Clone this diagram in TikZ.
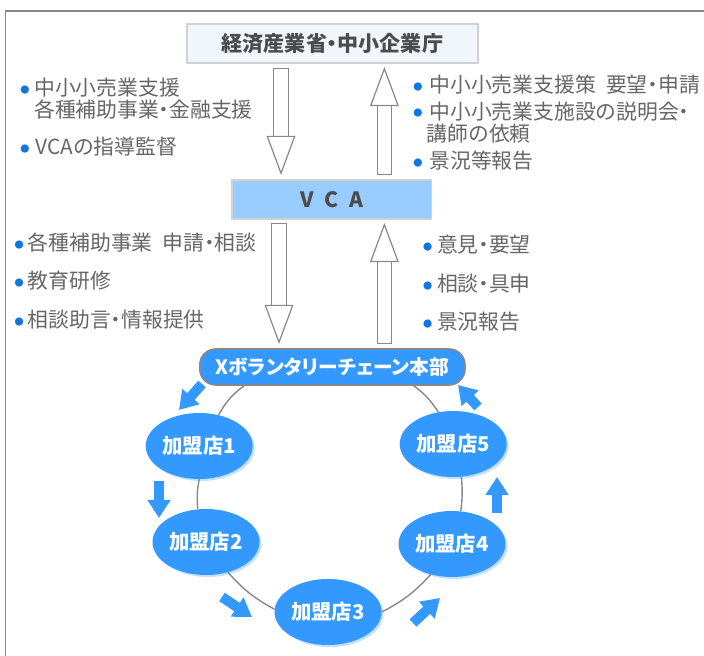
\documentclass[tikz,border=0pt]{standalone}
\usepackage{fontspec}
\setmainfont[RawFeature=+palt]{Noto Sans CJK JP}
\newfontfamily\plainjp{Noto Sans CJK JP}
\newfontfamily\widejp[WordSpace=2.2]{Noto Sans CJK JP}
\usetikzlibrary{arrows.meta,shadows,shapes.geometric}
\definecolor{dotblue}{HTML}{1177DD}
\definecolor{mainblue}{HTML}{3399FF}
\definecolor{paleblue}{HTML}{99CCFF}
\definecolor{iceblue}{HTML}{F0F6FC}
\definecolor{edgegray}{HTML}{888888}
\definecolor{notegray}{HTML}{666666}
\newcommand{\dotb}[1]{\makebox[#1][l]{\raisebox{.07cm}{\textcolor{dotblue}{\fontsize{6.5}{6.5}\selectfont ●}}}}
\newcommand{\nd}{{\normalfont ・}}
\tikzset{
note/.style={anchor=west,inner sep=0pt,align=left,text=notegray,font=\plainjp\fontsize{14.8}{15.6}\selectfont},
office/.style={draw=black!18,line width=1pt,minimum height=.975cm,text=black!70,font=\fontsize{15}{15}\selectfont\bfseries},
store/.style={ellipse,fill=mainblue,text=white,minimum width=2.675cm,minimum height=1.65cm,inner sep=0pt,font=\fontsize{14.5}{15}\selectfont\bfseries,drop shadow={shadow xshift=.05cm,shadow yshift=-.05cm,fill=paleblue,opacity=.6}},
bigarrow/.style={draw=edgegray,line width=.03cm,double=white,double distance=.33cm,{Bar[width=.39cm]}-{Triangle[open,fill=white,length=.98cm,width=.72cm]}},
bluearrow/.style={draw=mainblue,line width=.25cm,-{Triangle[length=.45cm,width=.55cm]}},
ring/.style={draw=edgegray,line width=.035cm}
}

\begin{document}
\begin{tikzpicture}
\useasboundingbox(0,0)rectangle(17.6,16.4);
\draw[edgegray,line width=.03cm](.14,0)--(.14,16.125)--(17.6,16.125);

\node[office,fill=iceblue,minimum width=7.28cm](gov) at(8.31,15.31){経済産業省・中小企業庁};
\node[office,fill=paleblue,minimum width=4.98cm](vca) at(8.29,11.41){\widejp V C A};
\node[rectangle,rounded corners=.4cm,draw=edgegray,line width=.04cm,fill=mainblue,text=white,minimum width=6.63cm,minimum height=.9cm,inner sep=0pt,font=\fontsize{14}{15}\selectfont\bfseries](hq) at(8.31,7.225){Xボランタリーチェーン本部};
\node[store](v1) at(4.98,5.25){加盟店1};
\node[store](v2) at(5.15,2.85){加盟店2};
\node[store](v3) at(8.2,1.1){加盟店3};
\node[store](v4) at(11.3,2.8){加盟店4};
\node[store](v5) at(11.33,5.3){加盟店5};

\draw[ring](hq.192)to[bend right=12](v1.58);
\draw[ring](v1.south)to[bend right=8](v2.104);
\draw[ring](v2.-54)to[bend right=10](v3.177);
\draw[ring](v3.east)to[bend right=10](v4.-125);
\draw[ring](v4.75)to[bend right=6](v5.-76);
\draw[ring](v5.115)to[bend right=10](hq.-13);

\coordinate(d1a) at(7.025,14.7);
\coordinate(d1b) at(7.025,12.025);
\coordinate(u1a) at(9.61,12.025);
\coordinate(u1b) at(9.61,14.725);
\coordinate(d2a) at(6.975,10.825);
\coordinate(d2b) at(6.975,7.8);
\coordinate(u2a) at(9.61,7.8);
\coordinate(u2b) at(9.61,10.825);
\draw[bigarrow](d1a)--(d1b);
\draw[bigarrow](u1a)--(u1b);
\draw[bigarrow](d2a)--(d2b);
\draw[bigarrow](u2a)--(u2b);

\coordinate(b1a) at(5.05,6.8);
\coordinate(b1b) at(4.475,6.15);
\coordinate(b2a) at(3.975,4.375);
\coordinate(b2b) at(3.975,3.45);
\coordinate(b3a) at(5.55,1.475);
\coordinate(b3b) at(6.3,.975);
\coordinate(b4a) at(10.325,.825);
\coordinate(b4b) at(11,1.45);
\coordinate(b5a) at(12.425,3.575);
\coordinate(b5b) at(12.425,4.475);
\coordinate(b6a) at(11.95,6.225);
\coordinate(b6b) at(11.45,6.775);
\draw[bluearrow](b1a)--(b1b);
\draw[bluearrow](b2a)--(b2b);
\draw[bluearrow](b3a)--(b3b);
\draw[bluearrow](b4a)--(b4b);
\draw[bluearrow](b5a)--(b5b);
\draw[bluearrow](b6a)--(b6b);

\node[note](n1) at(.5,13.925){\dotb{.35cm}中小小売業支援\\\hspace*{.35cm}各種補助事業\nd 金融支援};
\node[note](n2) at(.5,12.725){\dotb{.38cm}VCAの指導監督};
\node[note](n3) at(10.33,14.275){\dotb{.4cm}中小小売業支援策 要望\nd 申請};
\node[note](n4) at(10.33,13.3375){\dotb{.4cm}中小小売業支施設の説明会\nd\\\hspace*{.33cm}講師の依頼};
\node[note](n5) at(10.33,12.375){\dotb{.4cm}景況等報告};
\node[note](n6) at(.36,10.325){\dotb{.33cm}各種補助事業 申請\nd 相談};
\node[note](n7) at(.36,9.375){\dotb{.33cm}教育研修};
\node[note](n8) at(.36,8.4){\dotb{.33cm}相談助言\nd 情報提供};
\node[note](n9) at(10.57,10.275){\dotb{.35cm}意見\nd 要望};
\node[note](n10) at(10.57,9.3){\dotb{.35cm}相談\nd 具申};
\node[note](n11) at(10.57,8.35){\dotb{.35cm}景況報告};

\end{tikzpicture}
\end{document}
